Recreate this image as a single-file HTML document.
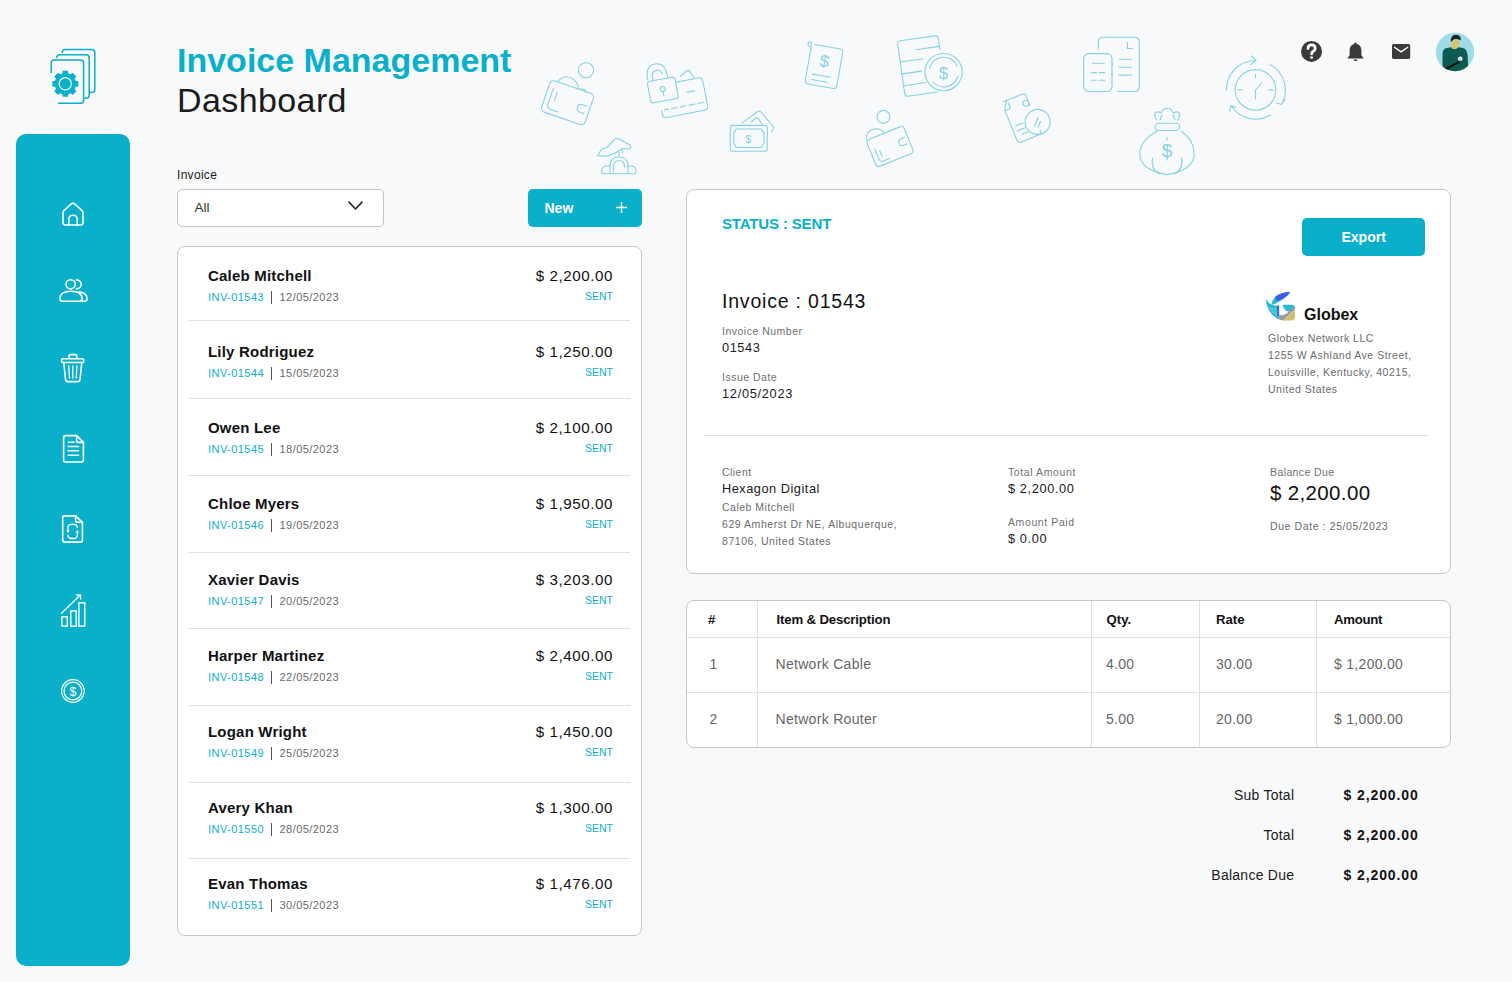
<!DOCTYPE html>
<html><head><meta charset="utf-8"><style>
html,body{margin:0;padding:0;}
body{width:1512px;height:982px;position:relative;overflow:hidden;background:#f8f9fb;font-family:"Liberation Sans",sans-serif;}
.t{position:absolute;white-space:pre;line-height:1;}
</style></head><body>
<div style="position:absolute;left:16px;top:134px;width:114px;height:832px;background:#0AAFC9;border-radius:10px;"></div>
<div class="t" style="left:177.00px;top:42.92px;font-size:34px;font-weight:700;color:#0AAFC9;">Invoice Management</div>
<div class="t" style="left:177.00px;top:83.22px;font-size:34px;font-weight:400;color:#1b1b1b;letter-spacing:0.4px;">Dashboard</div>
<div class="t" style="left:177.00px;top:168.84px;font-size:12px;font-weight:400;color:#1a1a1a;letter-spacing:0.3px;">Invoice</div>
<div style="position:absolute;left:177px;top:189px;width:207px;height:38px;background:#fff;border:1px solid #c4c4c4;border-radius:5px;box-sizing:border-box;"></div>
<div class="t" style="left:194.50px;top:200.57px;font-size:13.5px;font-weight:400;color:#333;">All</div>
<svg style="position:absolute;left:347px;top:200px" width="17" height="12" viewBox="0 0 17 12"><path d="M2 2.2 L8.5 9 L15 2.2" fill="none" stroke="#2b2b2b" stroke-width="1.7" stroke-linecap="round" stroke-linejoin="round"/></svg>
<div style="position:absolute;left:528px;top:189px;width:114px;height:38px;background:#0AAFC9;border-radius:5px;"></div>
<div class="t" style="left:544.50px;top:201.15px;font-size:14px;font-weight:700;color:#fff;">New</div>
<svg style="position:absolute;left:614px;top:200px" width="15" height="15" viewBox="0 0 15 15"><path d="M7.5 2 V13 M2 7.5 H13" fill="none" stroke="#fff" stroke-width="1.5"/></svg>
<div style="position:absolute;left:177px;top:246px;width:465px;height:690px;background:#fff;border:1px solid #c8c8c8;border-radius:8px;box-sizing:border-box;"></div>
<div class="t" style="left:208.00px;top:268.30px;font-size:15px;font-weight:700;color:#111;letter-spacing:0.2px;">Caleb Mitchell</div>
<div class="t" style="left:208.00px;top:291.69px;font-size:11px;font-weight:400;color:#0AAFC9;letter-spacing:0.45px;">INV-01543</div>
<div style="position:absolute;left:271px;top:290.5px;width:1px;height:13px;background:#555;"></div>
<div class="t" style="left:279.50px;top:291.69px;font-size:11px;font-weight:400;color:#6a6a6a;letter-spacing:0.45px;">12/05/2023</div>
<div class="t" style="right:898.95px;top:268.13px;font-size:15.2px;font-weight:400;color:#111;letter-spacing:0.55px;">$ 2,200.00</div>
<div class="t" style="right:899.00px;top:290.81px;font-size:10.5px;font-weight:400;color:#0AAFC9;">SENT</div>
<div class="t" style="left:208.00px;top:344.30px;font-size:15px;font-weight:700;color:#111;letter-spacing:0.2px;">Lily Rodriguez</div>
<div class="t" style="left:208.00px;top:367.69px;font-size:11px;font-weight:400;color:#0AAFC9;letter-spacing:0.45px;">INV-01544</div>
<div style="position:absolute;left:271px;top:366.5px;width:1px;height:13px;background:#555;"></div>
<div class="t" style="left:279.50px;top:367.69px;font-size:11px;font-weight:400;color:#6a6a6a;letter-spacing:0.45px;">15/05/2023</div>
<div class="t" style="right:898.95px;top:344.13px;font-size:15.2px;font-weight:400;color:#111;letter-spacing:0.55px;">$ 1,250.00</div>
<div class="t" style="right:899.00px;top:366.81px;font-size:10.5px;font-weight:400;color:#0AAFC9;">SENT</div>
<div class="t" style="left:208.00px;top:420.30px;font-size:15px;font-weight:700;color:#111;letter-spacing:0.2px;">Owen Lee</div>
<div class="t" style="left:208.00px;top:443.69px;font-size:11px;font-weight:400;color:#0AAFC9;letter-spacing:0.45px;">INV-01545</div>
<div style="position:absolute;left:271px;top:442.5px;width:1px;height:13px;background:#555;"></div>
<div class="t" style="left:279.50px;top:443.69px;font-size:11px;font-weight:400;color:#6a6a6a;letter-spacing:0.45px;">18/05/2023</div>
<div class="t" style="right:898.95px;top:420.13px;font-size:15.2px;font-weight:400;color:#111;letter-spacing:0.55px;">$ 2,100.00</div>
<div class="t" style="right:899.00px;top:442.81px;font-size:10.5px;font-weight:400;color:#0AAFC9;">SENT</div>
<div class="t" style="left:208.00px;top:496.30px;font-size:15px;font-weight:700;color:#111;letter-spacing:0.2px;">Chloe Myers</div>
<div class="t" style="left:208.00px;top:519.69px;font-size:11px;font-weight:400;color:#0AAFC9;letter-spacing:0.45px;">INV-01546</div>
<div style="position:absolute;left:271px;top:518.5px;width:1px;height:13px;background:#555;"></div>
<div class="t" style="left:279.50px;top:519.69px;font-size:11px;font-weight:400;color:#6a6a6a;letter-spacing:0.45px;">19/05/2023</div>
<div class="t" style="right:898.95px;top:496.13px;font-size:15.2px;font-weight:400;color:#111;letter-spacing:0.55px;">$ 1,950.00</div>
<div class="t" style="right:899.00px;top:518.81px;font-size:10.5px;font-weight:400;color:#0AAFC9;">SENT</div>
<div class="t" style="left:208.00px;top:572.30px;font-size:15px;font-weight:700;color:#111;letter-spacing:0.2px;">Xavier Davis</div>
<div class="t" style="left:208.00px;top:595.69px;font-size:11px;font-weight:400;color:#0AAFC9;letter-spacing:0.45px;">INV-01547</div>
<div style="position:absolute;left:271px;top:594.5px;width:1px;height:13px;background:#555;"></div>
<div class="t" style="left:279.50px;top:595.69px;font-size:11px;font-weight:400;color:#6a6a6a;letter-spacing:0.45px;">20/05/2023</div>
<div class="t" style="right:898.95px;top:572.13px;font-size:15.2px;font-weight:400;color:#111;letter-spacing:0.55px;">$ 3,203.00</div>
<div class="t" style="right:899.00px;top:594.81px;font-size:10.5px;font-weight:400;color:#0AAFC9;">SENT</div>
<div class="t" style="left:208.00px;top:648.30px;font-size:15px;font-weight:700;color:#111;letter-spacing:0.2px;">Harper Martinez</div>
<div class="t" style="left:208.00px;top:671.69px;font-size:11px;font-weight:400;color:#0AAFC9;letter-spacing:0.45px;">INV-01548</div>
<div style="position:absolute;left:271px;top:670.5px;width:1px;height:13px;background:#555;"></div>
<div class="t" style="left:279.50px;top:671.69px;font-size:11px;font-weight:400;color:#6a6a6a;letter-spacing:0.45px;">22/05/2023</div>
<div class="t" style="right:898.95px;top:648.13px;font-size:15.2px;font-weight:400;color:#111;letter-spacing:0.55px;">$ 2,400.00</div>
<div class="t" style="right:899.00px;top:670.81px;font-size:10.5px;font-weight:400;color:#0AAFC9;">SENT</div>
<div class="t" style="left:208.00px;top:724.30px;font-size:15px;font-weight:700;color:#111;letter-spacing:0.2px;">Logan Wright</div>
<div class="t" style="left:208.00px;top:747.69px;font-size:11px;font-weight:400;color:#0AAFC9;letter-spacing:0.45px;">INV-01549</div>
<div style="position:absolute;left:271px;top:746.5px;width:1px;height:13px;background:#555;"></div>
<div class="t" style="left:279.50px;top:747.69px;font-size:11px;font-weight:400;color:#6a6a6a;letter-spacing:0.45px;">25/05/2023</div>
<div class="t" style="right:898.95px;top:724.13px;font-size:15.2px;font-weight:400;color:#111;letter-spacing:0.55px;">$ 1,450.00</div>
<div class="t" style="right:899.00px;top:746.81px;font-size:10.5px;font-weight:400;color:#0AAFC9;">SENT</div>
<div class="t" style="left:208.00px;top:800.30px;font-size:15px;font-weight:700;color:#111;letter-spacing:0.2px;">Avery Khan</div>
<div class="t" style="left:208.00px;top:823.69px;font-size:11px;font-weight:400;color:#0AAFC9;letter-spacing:0.45px;">INV-01550</div>
<div style="position:absolute;left:271px;top:822.5px;width:1px;height:13px;background:#555;"></div>
<div class="t" style="left:279.50px;top:823.69px;font-size:11px;font-weight:400;color:#6a6a6a;letter-spacing:0.45px;">28/05/2023</div>
<div class="t" style="right:898.95px;top:800.13px;font-size:15.2px;font-weight:400;color:#111;letter-spacing:0.55px;">$ 1,300.00</div>
<div class="t" style="right:899.00px;top:822.81px;font-size:10.5px;font-weight:400;color:#0AAFC9;">SENT</div>
<div class="t" style="left:208.00px;top:876.30px;font-size:15px;font-weight:700;color:#111;letter-spacing:0.2px;">Evan Thomas</div>
<div class="t" style="left:208.00px;top:899.69px;font-size:11px;font-weight:400;color:#0AAFC9;letter-spacing:0.45px;">INV-01551</div>
<div style="position:absolute;left:271px;top:898.5px;width:1px;height:13px;background:#555;"></div>
<div class="t" style="left:279.50px;top:899.69px;font-size:11px;font-weight:400;color:#6a6a6a;letter-spacing:0.45px;">30/05/2023</div>
<div class="t" style="right:898.95px;top:876.13px;font-size:15.2px;font-weight:400;color:#111;letter-spacing:0.55px;">$ 1,476.00</div>
<div class="t" style="right:899.00px;top:898.81px;font-size:10.5px;font-weight:400;color:#0AAFC9;">SENT</div>
<div style="position:absolute;left:188px;top:320px;width:442px;height:1px;background:#e2e2e2;"></div>
<div style="position:absolute;left:188px;top:398px;width:442px;height:1px;background:#e2e2e2;"></div>
<div style="position:absolute;left:188px;top:475px;width:442px;height:1px;background:#e2e2e2;"></div>
<div style="position:absolute;left:188px;top:552px;width:442px;height:1px;background:#e2e2e2;"></div>
<div style="position:absolute;left:188px;top:628px;width:442px;height:1px;background:#e2e2e2;"></div>
<div style="position:absolute;left:188px;top:705px;width:442px;height:1px;background:#e2e2e2;"></div>
<div style="position:absolute;left:188px;top:782px;width:442px;height:1px;background:#e2e2e2;"></div>
<div style="position:absolute;left:188px;top:858px;width:442px;height:1px;background:#e2e2e2;"></div>
<div style="position:absolute;left:686px;top:189px;width:765px;height:385px;background:#fff;border:1px solid #c8c8c8;border-radius:8px;box-sizing:border-box;"></div>
<div class="t" style="left:722.00px;top:216.30px;font-size:15px;font-weight:700;color:#0AAFC9;letter-spacing:-0.15px;">STATUS : SENT</div>
<div style="position:absolute;left:1302px;top:218px;width:123px;height:38px;background:#0AAFC9;border-radius:5px;"></div>
<div class="t" style="left:1341.50px;top:230.15px;font-size:14px;font-weight:700;color:#fff;">Export</div>
<div class="t" style="left:722.00px;top:291.99px;font-size:19.5px;font-weight:400;color:#111;letter-spacing:0.8px;">Invoice : 01543</div>
<div class="t" style="left:722.00px;top:325.81px;font-size:10.5px;font-weight:400;color:#6f6f6f;letter-spacing:0.5px;">Invoice Number</div>
<div class="t" style="left:722.00px;top:341.76px;font-size:12.8px;font-weight:400;color:#1a1a1a;letter-spacing:0.55px;">01543</div>
<div class="t" style="left:722.00px;top:372.01px;font-size:10.5px;font-weight:400;color:#6f6f6f;letter-spacing:0.5px;">Issue Date</div>
<div class="t" style="left:722.00px;top:387.66px;font-size:12.8px;font-weight:400;color:#1a1a1a;letter-spacing:0.7px;">12/05/2023</div>
<div class="t" style="left:1304.00px;top:307.16px;font-size:16px;font-weight:700;color:#111;">Globex</div>
<div class="t" style="left:1268.00px;top:332.81px;font-size:10.5px;font-weight:400;color:#6a6a6a;letter-spacing:0.5px;">Globex Network LLC</div>
<div class="t" style="left:1268.00px;top:349.81px;font-size:10.5px;font-weight:400;color:#6a6a6a;letter-spacing:0.5px;">1255 W Ashland Ave Street,</div>
<div class="t" style="left:1268.00px;top:366.81px;font-size:10.5px;font-weight:400;color:#6a6a6a;letter-spacing:0.5px;">Louisville, Kentucky, 40215,</div>
<div class="t" style="left:1268.00px;top:383.81px;font-size:10.5px;font-weight:400;color:#6a6a6a;letter-spacing:0.5px;">United States</div>
<div style="position:absolute;left:703px;top:435px;width:726px;height:1px;background:#e2e2e2;"></div>
<div class="t" style="left:722.00px;top:467.01px;font-size:10.5px;font-weight:400;color:#6f6f6f;letter-spacing:0.45px;">Client</div>
<div class="t" style="left:722.00px;top:482.86px;font-size:12.8px;font-weight:400;color:#1a1a1a;letter-spacing:0.5px;">Hexagon Digital</div>
<div class="t" style="left:722.00px;top:501.91px;font-size:10.5px;font-weight:400;color:#6a6a6a;letter-spacing:0.5px;">Caleb Mitchell</div>
<div class="t" style="left:722.00px;top:518.71px;font-size:10.5px;font-weight:400;color:#6a6a6a;letter-spacing:0.55px;">629 Amherst Dr NE, Albuquerque,</div>
<div class="t" style="left:722.00px;top:535.71px;font-size:10.5px;font-weight:400;color:#6a6a6a;letter-spacing:0.55px;">87106, United States</div>
<div class="t" style="left:1008.00px;top:467.01px;font-size:10.5px;font-weight:400;color:#6f6f6f;letter-spacing:0.6px;">Total Amount</div>
<div class="t" style="left:1008.00px;top:482.86px;font-size:12.8px;font-weight:400;color:#1a1a1a;letter-spacing:0.6px;">$ 2,200.00</div>
<div class="t" style="left:1008.00px;top:516.91px;font-size:10.5px;font-weight:400;color:#6f6f6f;letter-spacing:0.6px;">Amount Paid</div>
<div class="t" style="left:1008.00px;top:532.76px;font-size:12.8px;font-weight:400;color:#1a1a1a;letter-spacing:0.6px;">$ 0.00</div>
<div class="t" style="left:1270.00px;top:466.91px;font-size:10.5px;font-weight:400;color:#6f6f6f;letter-spacing:0.4px;">Balance Due</div>
<div class="t" style="left:1270.00px;top:482.55px;font-size:20.5px;font-weight:400;color:#111;letter-spacing:0.35px;">$ 2,200.00</div>
<div class="t" style="left:1270.00px;top:520.61px;font-size:10.5px;font-weight:400;color:#6a6a6a;letter-spacing:0.6px;">Due Date : 25/05/2023</div>
<div style="position:absolute;left:686px;top:600px;width:765px;height:148px;background:#fff;border:1px solid #c8c8c8;border-radius:8px;box-sizing:border-box;"></div>
<div style="position:absolute;left:687px;top:637px;width:763px;height:1px;background:#e0e0e0;"></div>
<div style="position:absolute;left:687px;top:692px;width:763px;height:1px;background:#e0e0e0;"></div>
<div style="position:absolute;left:757px;top:601px;width:1px;height:146px;background:#e0e0e0;"></div>
<div style="position:absolute;left:1091px;top:601px;width:1px;height:146px;background:#e0e0e0;"></div>
<div style="position:absolute;left:1199px;top:601px;width:1px;height:146px;background:#e0e0e0;"></div>
<div style="position:absolute;left:1316px;top:601px;width:1px;height:146px;background:#e0e0e0;"></div>
<div class="t" style="left:708.00px;top:612.83px;font-size:13.2px;font-weight:700;color:#111;">#</div>
<div class="t" style="left:776.50px;top:612.83px;font-size:13.2px;font-weight:700;color:#111;letter-spacing:-0.15px;">Item &amp; Description</div>
<div class="t" style="left:1106.50px;top:612.83px;font-size:13.2px;font-weight:700;color:#111;">Qty.</div>
<div class="t" style="left:1216.00px;top:612.83px;font-size:13.2px;font-weight:700;color:#111;">Rate</div>
<div class="t" style="left:1334.00px;top:612.83px;font-size:13.2px;font-weight:700;color:#111;letter-spacing:-0.3px;">Amount</div>
<div class="t" style="left:709.50px;top:657.15px;font-size:14px;font-weight:400;color:#666;">1</div>
<div class="t" style="left:775.50px;top:657.15px;font-size:14px;font-weight:400;color:#666;letter-spacing:0.3px;">Network Cable</div>
<div class="t" style="left:1106.00px;top:657.15px;font-size:14px;font-weight:400;color:#666;letter-spacing:0.3px;">4.00</div>
<div class="t" style="left:1216.00px;top:657.15px;font-size:14px;font-weight:400;color:#666;letter-spacing:0.3px;">30.00</div>
<div class="t" style="left:1334.00px;top:657.15px;font-size:14px;font-weight:400;color:#666;letter-spacing:0.3px;">$ 1,200.00</div>
<div class="t" style="left:709.50px;top:712.15px;font-size:14px;font-weight:400;color:#666;">2</div>
<div class="t" style="left:775.50px;top:712.15px;font-size:14px;font-weight:400;color:#666;letter-spacing:0.3px;">Network Router</div>
<div class="t" style="left:1106.00px;top:712.15px;font-size:14px;font-weight:400;color:#666;letter-spacing:0.3px;">5.00</div>
<div class="t" style="left:1216.00px;top:712.15px;font-size:14px;font-weight:400;color:#666;letter-spacing:0.3px;">20.00</div>
<div class="t" style="left:1334.00px;top:712.15px;font-size:14px;font-weight:400;color:#666;letter-spacing:0.3px;">$ 1,000.00</div>
<div class="t" style="right:217.75px;top:788.15px;font-size:14px;font-weight:400;color:#1a1a1a;letter-spacing:0.25px;">Sub Total</div>
<div class="t" style="left:1343.50px;top:788.15px;font-size:14px;font-weight:700;color:#111;letter-spacing:0.9px;">$ 2,200.00</div>
<div class="t" style="right:217.75px;top:828.15px;font-size:14px;font-weight:400;color:#1a1a1a;letter-spacing:0.25px;">Total</div>
<div class="t" style="left:1343.50px;top:828.15px;font-size:14px;font-weight:700;color:#111;letter-spacing:0.9px;">$ 2,200.00</div>
<div class="t" style="right:217.75px;top:868.15px;font-size:14px;font-weight:400;color:#1a1a1a;letter-spacing:0.25px;">Balance Due</div>
<div class="t" style="left:1343.50px;top:868.15px;font-size:14px;font-weight:700;color:#111;letter-spacing:0.9px;">$ 2,200.00</div>
<svg style="position:absolute;left:0;top:0" width="1512" height="982" viewBox="0 0 1512 982"><g fill="none" stroke="#86d2e2" stroke-width="1.1" stroke-linecap="round" stroke-linejoin="round" transform="translate(567.5,102.7) rotate(19)"><rect x="-23" y="-16.5" width="46" height="33" rx="4"/><path d="M-18 -9 V8 Q-18 12 -14 12 H-6"/><path d="M-13 -6 V2"/><path d="M19 -3 H15 Q11 -3 11 1 Q11 5 15 5 H19"/><path d="M-16 -17 Q-12 -27 -2 -24 Q4 -22 6 -16"/><path d="M8 -17.5 Q14 -19 14 -15.5 V-16"/></g>
<circle fill="none" stroke="#86d2e2" stroke-width="1.1" stroke-linecap="round" stroke-linejoin="round" cx="586" cy="70.3" r="7.6"/>
<g fill="none" stroke="#86d2e2" stroke-width="1.1" stroke-linecap="round" stroke-linejoin="round" transform="translate(681,94.5) rotate(-11)"><path d="M-2 -13 H20 Q24 -13 24 -9 V16 Q24 20 20 20 H-18 Q-22 20 -22 16 V12"/><path d="M-19 12 H-15 M-12 12 H-6 M-3 12 H3 M6 12 H12 M15 12 H21 M6 -1 H14"/><path d="M3 -18 L10 -22 Q12 -23 13 -21 L16 -14"/></g>
<g fill="none" stroke="#86d2e2" stroke-width="1.1" stroke-linecap="round" stroke-linejoin="round" transform="translate(662.8,90) rotate(-10.5)"><rect x="-14" y="-11" width="28" height="22" rx="3"/><circle cx="0" cy="-1" r="2.6"/><path d="M0 1.6 V6"/><path d="M-13 -13 Q-13 -27 -3 -27 Q7 -27 7 -14 V-11"/><path d="M-8 -11 V-14 Q-8 -20.5 -3 -20.5 Q1.5 -20.5 2 -16"/></g>
<g fill="none" stroke="#86d2e2" stroke-width="1.1" stroke-linecap="round" stroke-linejoin="round"><path d="M602 173.8 H635 Q636 173.8 636 171 Q636 166.5 631.5 166 H627 M610 166 H606 Q601.7 166.5 601.7 171 Q601.7 173.8 602 173.8"/><path d="M610 173.5 V166 Q610 157 619 157 Q628 157 628 166 V173.5"/><path d="M613.5 172 V167 Q613.5 160.5 619 160.5 Q624.5 160.5 624.5 167"/><path d="M597.8 155.5 Q601 148 607 147.5 L615 139 Q617 138 619 139 L630 145 Q631.5 147 629.5 149 L623 148.5 Q615 154 607 156 Q601 156.5 597.8 155.5"/><path d="M619 152 V156 M622.5 150.5 V153"/></g>
<g fill="none" stroke="#86d2e2" stroke-width="1.1" stroke-linecap="round" stroke-linejoin="round"><rect x="730.3" y="125.4" width="37" height="25.8" rx="2.5"/><path d="M736 129 H761.5 Q761.8 132 764 132.5 V143.5 Q761.8 144.5 761.5 147.5 H736 Q735.5 144.5 733.8 143.5 V132.5 Q735.5 132 736 129 Z"/><path d="M742.4 122.9 L757.6 111.5 Q759.6 110.3 761 112 L773 126.5 Q774 128.5 771.6 132"/><path d="M751 122 L756 118 Q757.5 117.5 758.5 118.8 L762 124"/></g>
<text x="748.4" y="142.8" font-family="Liberation Sans" font-size="11" fill="#86d2e2" text-anchor="middle">$</text>
<g fill="none" stroke="#86d2e2" stroke-width="1.1" stroke-linecap="round" stroke-linejoin="round" transform="translate(824,66.5) rotate(10)"><path d="M-13 -20 H13 Q16 -20 16 -17 V17 Q16 20 13 20 H-13 Q-16 20 -16 17 V-19 Q-16 -22 -18.5 -21.5 Q-20 -21 -19.5 -18.5 Q-19 -17 -16 -17"/><path d="M-10 9.5 H8 M-10 15 H6"/></g>
<text x="824.5" y="67" font-family="Liberation Sans" font-size="17" fill="#86d2e2" text-anchor="middle" transform="rotate(10 824.5 61)">$</text>
<g fill="none" stroke="#86d2e2" stroke-width="1.1" stroke-linecap="round" stroke-linejoin="round" transform="translate(922,66) rotate(-8)"><path d="M-18 -28 H17 Q20 -28 20 -25 V-14"/><path d="M-18 -28 Q-21 -28 -21 -25 V25 Q-21 28 -18 28 H12"/><path d="M-4 -17 H20 M-21 -7 H2 M-21 5 H-1 M-21 17 H2"/></g>
<circle fill="none" stroke="#86d2e2" stroke-width="1.1" stroke-linecap="round" stroke-linejoin="round" cx="943.6" cy="72.1" r="18.6"/>
<path fill="none" stroke="#86d2e2" stroke-width="1.1" stroke-linecap="round" stroke-linejoin="round" d="M929.5 68 A14.6 14.6 0 0 1 957 66 M958 76 A14.6 14.6 0 0 1 933 82"/>
<text x="943.6" y="78.6" font-family="Liberation Sans" font-size="17" fill="#86d2e2" text-anchor="middle">$</text>
<g fill="none" stroke="#86d2e2" stroke-width="1.1" stroke-linecap="round" stroke-linejoin="round" transform="translate(890,146.5) rotate(-22)"><rect x="-20" y="-14.5" width="40" height="29" rx="3.5"/><path d="M-15 -3 V8 Q-15 11 -12 11 H-5"/><path d="M-11 0 V6"/><path d="M17 -3 H13 Q9.5 -3 9.5 0.5 Q9.5 4 13 4 H17"/><path d="M-19 -16 Q-16 -24 -7 -22 Q-2 -20.5 0 -15"/></g>
<circle fill="none" stroke="#86d2e2" stroke-width="1.1" stroke-linecap="round" stroke-linejoin="round" cx="883.4" cy="116.8" r="6.4"/>
<g fill="none" stroke="#86d2e2" stroke-width="1.1" stroke-linecap="round" stroke-linejoin="round" transform="translate(1022,118) rotate(-22)"><path d="M-11 -22 H9 Q12 -22 12 -19 V-8 M12 18 V19 Q12 22 9 22 H-10 Q-13 22 -13 19 V-14 L-9 -20 Q-8 -22 -7 -22"/><path d="M-13 -13 H-8 Q-7 -13 -7 -15 V-19"/><path d="M-9 5 H-1 M-9 10 H-1 M-6 15 H0"/></g>
<circle fill="none" stroke="#86d2e2" stroke-width="1.1" stroke-linecap="round" stroke-linejoin="round" cx="1037.6" cy="121.9" r="12.5"/>
<circle fill="none" stroke="#86d2e2" stroke-width="1.1" stroke-linecap="round" stroke-linejoin="round" cx="1025.9" cy="103.2" r="3"/>
<path fill="none" stroke="#86d2e2" stroke-width="1.1" stroke-linecap="round" stroke-linejoin="round" d="M1034.5 126 L1038 117.5 M1038 127 L1040.5 121.5"/>
<g fill="none" stroke="#86d2e2" stroke-width="1.1" stroke-linecap="round" stroke-linejoin="round"><path d="M1098.3 48.5 V42.2 Q1098.3 37.2 1103.3 37.2 H1134.3 Q1139.3 37.2 1139.3 42.2 V86.5 Q1139.3 91.5 1134.3 91.5 H1117.5"/><rect x="1083.7" y="53.6" width="28.3" height="37.9" rx="5"/><path d="M1127.4 42.3 V48.5 H1132.5"/><path d="M1119.2 59.3 H1131.5 M1119.2 67.3 H1131.5 M1119.2 75.1 H1131.5"/><path d="M1092.5 63.2 H1104.3 M1091.5 72.6 H1096.5 M1099 72.6 H1104.8 M1091.5 80.2 H1096.5 M1099 80.2 H1104.8"/><path d="M1112 63 V66 M1112 72 V75"/></g>
<g fill="none" stroke="#86d2e2" stroke-width="1.1" stroke-linecap="round" stroke-linejoin="round"><path d="M1157 120 Q1153.5 116 1155.5 112.5 Q1158.5 111 1161 113 Q1163.5 107.8 1167.3 108.2 Q1171 108.2 1173.5 113 Q1176.2 111 1179 112.5 Q1181 116 1177.5 120"/><path d="M1160 120 L1162 115 M1175 120 L1173 115"/><rect x="1155" y="123.3" width="24.7" height="7.2" rx="3.6"/><path d="M1157.5 131 Q1140 140 1139.8 154 Q1140 170 1167 174.6 Q1194 170 1194.2 154 Q1194 140 1181.5 131.5"/><path d="M1152.5 158 Q1150.5 170 1160 174 M1181.5 158 Q1183.5 170 1174 174"/><path d="M1167 137.5 V140 M1167 157 V160"/></g>
<text x="1167" y="156.5" font-family="Liberation Sans" font-size="19" fill="#86d2e2" text-anchor="middle">$</text>
<g fill="none" stroke="#86d2e2" stroke-width="1.1" stroke-linecap="round" stroke-linejoin="round"><circle cx="1255.5" cy="89.9" r="20.3"/><path d="M1255.5 90 L1262 82.5 M1255.5 90 V99 M1255.5 74.5 V78 M1269 89.9 H1273 M1238 89.9 H1242"/><path d="M1226.5 90 A29 29 0 0 1 1256 60.5 M1251.5 56 L1256 60.5 L1251 64.5"/><path d="M1270 64.5 A29 29 0 0 1 1281.5 104.5 M1276.5 103 L1281.5 104.5 L1285 99.5"/><path d="M1270.5 115 A29 29 0 0 1 1231 105.5 M1229.5 111 L1231 105.5 L1236 107.5"/></g><path fill="none" stroke="#ffffff" stroke-width="1.6" stroke-linecap="round" stroke-linejoin="round" d="M63 212.5 Q63 211.5 64 210.6 L71.2 204 Q73 202.6 74.8 204 L82 210.6 Q83 211.5 83 212.5 V222.5 Q83 225 80.5 225 H65.5 Q63 225 63 222.5 Z"/>
<path fill="none" stroke="#ffffff" stroke-width="1.6" stroke-linecap="round" stroke-linejoin="round" d="M68.8 225 V219.3 Q68.8 215.2 73 215.2 Q77.2 215.2 77.2 219.3 V225"/>
<circle fill="none" stroke="#ffffff" stroke-width="1.6" stroke-linecap="round" stroke-linejoin="round" cx="70.6" cy="284.3" r="4.6"/>
<path fill="none" stroke="#ffffff" stroke-width="1.6" stroke-linecap="round" stroke-linejoin="round" d="M76.2 280.1 A4.3 4.3 0 1 1 76.4 288.6"/>
<path fill="none" stroke="#ffffff" stroke-width="1.6" stroke-linecap="round" stroke-linejoin="round" d="M60 298.6 Q60 291.2 71 291.2 Q82 291.2 82 298.6 Q82 301.2 79.5 301.2 H62.5 Q60 301.2 60 298.6 Z"/>
<path fill="none" stroke="#ffffff" stroke-width="1.6" stroke-linecap="round" stroke-linejoin="round" d="M79.5 291.9 Q87 293 87 298.8 Q87 301.2 84.5 301.2 H82"/>
<path fill="none" stroke="#ffffff" stroke-width="1.6" stroke-linecap="round" stroke-linejoin="round" d="M62.8 358.8 H82.4 Q83.8 358.8 83.8 360.5 Q83.8 362.5 82.4 362.5 H62.8 Q61.5 362.5 61.5 360.5 Q61.5 358.8 62.8 358.8 Z"/>
<path fill="none" stroke="#ffffff" stroke-width="1.6" stroke-linecap="round" stroke-linejoin="round" d="M69 358.8 V356.3 Q69 354.6 70.7 354.6 H75.2 Q76.9 354.6 76.9 356.3 V358.8"/>
<path fill="none" stroke="#ffffff" stroke-width="1.6" stroke-linecap="round" stroke-linejoin="round" d="M63.8 362.5 L65.6 379.8 Q65.9 381.6 67.7 381.6 H77.9 Q79.7 381.6 80 379.8 L81.8 362.5"/>
<path fill="none" stroke="#ffffff" stroke-width="1.3" stroke-linecap="round" d="M68.7 366 L69.5 378.2 M72.8 366 V378.2 M77 366 L76.2 378.2"/>
<path fill="none" stroke="#ffffff" stroke-width="1.6" stroke-linecap="round" stroke-linejoin="round" d="M65.5 435.6 H76.6 L83.4 442.4 V460 Q83.4 462 81.4 462 H65.5 Q63.6 462 63.6 460 V437.6 Q63.6 435.6 65.5 435.6 Z"/>
<path fill="none" stroke="#ffffff" stroke-width="1.6" stroke-linecap="round" stroke-linejoin="round" d="M76.6 435.6 V440.4 Q76.6 442.4 78.6 442.4 H83.4"/>
<path fill="none" stroke="#ffffff" stroke-width="1.4" stroke-linecap="round" d="M68.2 442.3 H74.2 M68.2 446.5 H78.6 M68.2 450.8 H78.6 M68.2 455.2 H78.6"/>
<path fill="none" stroke="#ffffff" stroke-width="1.6" stroke-linecap="round" stroke-linejoin="round" d="M64.5 515.9 H75.6 L82.4 522.3 V540.2 Q82.4 542.1 80.5 542.1 H64.5 Q62.7 542.1 62.7 540.2 V517.8 Q62.7 515.9 64.5 515.9 Z"/>
<path fill="none" stroke="#ffffff" stroke-width="1.6" stroke-linecap="round" stroke-linejoin="round" d="M75.6 515.9 V520.5 Q75.6 522.3 77.4 522.3 H82.4"/>
<path fill="none" stroke="#ffffff" stroke-width="1.3" stroke-linecap="round" d="M77.4 527.5 Q77 524.4 73.6 524.4 H71.4 Q67.9 524.4 67.9 528 V531.2"/>
<path fill="#ffffff" d="M66 530.4 H70 L68 533 Z"/>
<path fill="none" stroke="#ffffff" stroke-width="1.3" stroke-linecap="round" d="M67.9 535.2 Q68.3 538.5 71.6 538.5 H73.8 Q77.3 538.5 77.3 535 V531.8"/>
<path fill="#ffffff" d="M75.3 532.6 H79.3 L77.3 530 Z"/>
<rect fill="none" stroke="#ffffff" stroke-width="1.4" stroke-linejoin="miter" x="61.9" y="616.8" width="5.4" height="9.3"/>
<rect fill="none" stroke="#ffffff" stroke-width="1.4" stroke-linejoin="miter" x="70.8" y="610.9" width="5.4" height="15.2"/>
<rect fill="none" stroke="#ffffff" stroke-width="1.4" stroke-linejoin="miter" x="78.9" y="602.8" width="5.9" height="23.3"/>
<path fill="none" stroke="#ffffff" stroke-width="1.3" stroke-linecap="round" d="M61.6 613.3 L80.3 595 M76.3 594.8 H80.6 V599"/>
<circle fill="none" stroke="#ffffff" stroke-width="1.2" cx="72.9" cy="691" r="11.3"/>
<circle fill="none" stroke="#ffffff" stroke-width="1.2" cx="72.9" cy="691" r="8.9"/>
<text x="72.9" y="695.6" font-family="Liberation Sans" font-weight="400" font-size="12.5" fill="#ffffff" text-anchor="middle">$</text><path fill="none" stroke="#0AAFC9" stroke-width="1.5" stroke-linecap="round" d="M62.3 52.5 Q62.3 49.5 65.3 49.5 H91.8 Q94.8 49.5 94.8 52.5 V89.6 Q94.8 92.6 91.8 92.6 H90"/>
<path fill="none" stroke="#0AAFC9" stroke-width="1.5" stroke-linecap="round" d="M56.8 57.6 Q56.8 54.8 59.8 54.8 H86.2 Q89.2 54.8 89.2 57.8 V95.3 Q89.2 98.3 86.2 98.3 H84.5"/>
<path fill="none" stroke="#0AAFC9" stroke-width="1.5" stroke-linecap="round" d="M51.2 72.5 V63 Q51.2 60 54.2 60 H80.6 Q83.6 60 83.6 63 V100.2 Q83.6 103.2 80.6 103.2 H58.6"/>
<polygon fill="#0AAFC9" points="75.04,80.79 78.33,81.16 78.33,86.44 75.04,86.81 74.32,88.56 76.39,91.15 72.65,94.89 70.06,92.82 68.31,93.54 67.94,96.83 62.66,96.83 62.29,93.54 60.54,92.82 57.95,94.89 54.21,91.15 56.28,88.56 55.56,86.81 52.27,86.44 52.27,81.16 55.56,80.79 56.28,79.04 54.21,76.45 57.95,72.71 60.54,74.78 62.29,74.06 62.66,70.77 67.94,70.77 68.31,74.06 70.06,74.78 72.65,72.71 76.39,76.45 74.32,79.04"/>
<circle fill="#0AAFC9" cx="65.3" cy="83.8" r="10.6"/>
<circle fill="none" stroke="#fff" stroke-width="1.2" cx="65.3" cy="83.8" r="6.1"/><circle fill="#3a3a3c" cx="1311.5" cy="51.4" r="10.5"/>
<path fill="none" stroke="#fff" stroke-width="2.7" stroke-linecap="round" d="M1308 48.6 Q1308 44.9 1311.6 44.9 Q1315.2 44.9 1315.2 48.3 Q1315.2 50.3 1313.3 51.3 Q1311.6 52.2 1311.6 54"/>
<circle fill="#fff" cx="1311.6" cy="57.6" r="1.4"/>
<path fill="#3a3a3c" d="M1355.5 42.6 Q1356.8 42.6 1356.8 43.9 Q1361.4 45 1361.4 50.6 V55.6 L1363.2 57.6 V58.6 H1347.8 V57.6 L1349.6 55.6 V50.6 Q1349.6 45 1354.2 43.9 Q1354.2 42.6 1355.5 42.6 Z"/>
<path fill="#3a3a3c" d="M1353.4 59.4 H1357.6 Q1357.4 61 1355.5 61 Q1353.6 61 1353.4 59.4 Z"/>
<rect fill="#3a3a3c" x="1392" y="44" width="18.2" height="15" rx="1.8"/>
<path fill="none" stroke="#fff" stroke-width="1.5" d="M1394 47 L1401.1 51.8 L1408.2 47"/>
<defs><clipPath id="av"><circle cx="1455" cy="52" r="19.2"/></clipPath></defs>
<circle fill="#9fdce8" cx="1455" cy="52" r="19.2"/>
<g clip-path="url(#av)">
<path fill="#0c5a52" d="M1442.5 74 V54 Q1442.5 48.3 1448 47.8 L1451.5 47.3 Q1455 49.5 1458.5 47.3 L1463 48 Q1467 49 1467.6 55 L1468.5 74 Z"/>
<path fill="#d8c46a" d="M1451.3 40.5 Q1451.5 47 1451.3 48 Q1455 50.5 1458 47.8 L1457.6 45.5 Q1460 44 1460 40.5 Z"/>
<path fill="#222" d="M1450.8 42 Q1450.3 35 1455.8 34.8 Q1461.2 34.8 1460.8 40.3 L1458.6 39.5 Q1455 38.4 1452.5 40.5 Z"/>
<path fill="#111" d="M1445 68 L1459 61 L1460 62.5 L1446 70 Z"/>
<path fill="#e8e8e8" d="M1457.8 57.5 L1460.5 56.2 L1462.5 57.5 L1462.3 60.5 L1458.5 60.8 Z"/>
</g><g transform="translate(1262,288) scale(0.03663)">
<path fill="#22b6d1" d="M110 300 C100 520 250 760 470 860 L470 470 C380 500 200 480 110 300 Z"/>
<path fill="#6ccfe0" d="M150 470 C200 620 300 730 420 790 L420 540 C320 540 220 520 150 470 Z" opacity="0.55"/>
<path fill="#22b8d3" d="M260 460 C250 300 450 120 770 110 C700 230 550 330 420 400 C360 430 300 450 260 460 Z"/>
<path fill="#3d5fe6" d="M360 240 C460 150 600 110 770 110 C700 230 580 310 400 350 C380 320 370 280 360 240 Z"/>
<path fill="#29b9d4" d="M570 460 L800 460 Q900 460 900 560 L900 590 C820 640 740 650 680 625 C610 595 575 530 570 460 Z"/>
<path fill="#9d9d9d" d="M330 780 C400 840 480 880 580 885 L900 590 L900 520 L740 630 C680 710 600 750 520 740 L470 730 L470 860 C420 830 370 810 330 780 Z"/>
<path fill="#d3bc6a" d="M580 885 L900 600 L900 790 Q900 885 800 885 Z"/>
<rect fill="#3d5fe6" x="415" y="480" width="45" height="280"/>
</g></svg>
</body></html>
